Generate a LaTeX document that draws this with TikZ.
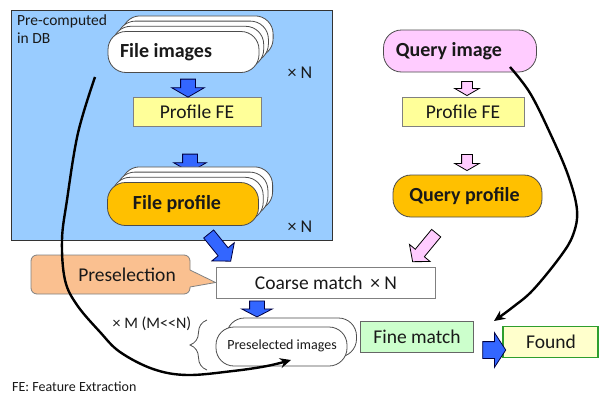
\documentclass[tikz,border=0pt]{standalone}
\usepackage{fontspec}
\setmainfont{Carlito}
\usetikzlibrary{shapes.arrows,decorations.pathreplacing,arrows.meta}
\definecolor{bgblue}{HTML}{99CCFF}
\definecolor{arblue}{HTML}{3366FF}
\definecolor{arpink}{HTML}{FFCCFF}
\definecolor{qpink}{HTML}{FFCCFF}
\definecolor{orng}{HTML}{FFC000}
\definecolor{lyel}{HTML}{FFFF99}
\definecolor{fyel}{HTML}{FFFFCC}
\definecolor{lgrn}{HTML}{CCFFCC}
\definecolor{fgrn}{HTML}{2E9E2E}
\definecolor{peach}{HTML}{FAC090}
\tikzset{
  pill/.style={draw=black!70, line width=0.8pt, rounded corners=18pt, minimum width=151pt, minimum height=41pt, inner sep=0pt},
  rectbox/.style={draw=black!50, line width=0.8pt, inner sep=0pt},
  barrow/.style={single arrow, draw=black!75!blue, fill=arblue, line width=0.8pt, inner xsep=0pt, single arrow head indent=0pt},
  parrow/.style={single arrow, draw=black, fill=arpink, line width=0.8pt, inner xsep=0pt, single arrow head indent=0pt},
  curve/.style={line width=2.4pt, black, -{Stealth[length=11pt,width=10pt]}},
  bigbold/.style={font=\fontsize{20}{24}\selectfont\bfseries, text=black!90},
  big/.style={font=\fontsize{19.5}{23}\selectfont, text=black!90},
  mid/.style={font=\fontsize{18}{21}\selectfont, text=black!90},
  small/.style={font=\fontsize{16}{19}\selectfont, text=black!90},
  tiny/.style={font=\fontsize{14}{17}\selectfont, text=black!90},
}
\begin{document}
\begin{tikzpicture}[x=1pt,y=1pt]
\useasboundingbox (0,0) rectangle (600,-394);
\fill[white] (0,0) rectangle (600,-394);

% DB background
\node[draw=black!80, fill=bgblue, line width=0.8pt, minimum width=321pt, minimum height=230pt, inner sep=0pt] (db) at (171.5,-125) {};

% File images stack
\foreach \i in {3,2,1}
  \node[pill, fill=white] (fimg\i) at ({183.5+\i*4.7},{-52+\i*5.2}) {};
\node[pill, fill=white] (fimg) at (183.5,-52) {};
\node[bigbold] (fimgt) at (166,-52) {File images};
\node[mid] (xn1) at (300,-73) {× N};
\node[font=\fontsize{15.5}{18.5}\selectfont, text=black!90, anchor=north west, align=left, inner sep=0pt] (pre) at (17,-15) {Pre-computed\\[-1pt]in DB};

% Profile FE left
\node[rectbox, fill=lyel, minimum width=128pt, minimum height=29pt] (profL) at (197,-111.5) {};
\node[big] (profLt) at (197,-111.5) {Profile FE};

\node[barrow, rotate=-90, minimum height=18pt, inner ysep=7pt, single arrow head extend=9pt, single arrow tip angle=120] (a1) at (188,-86) {};
\node[barrow, rotate=-90, minimum height=18pt, inner ysep=7pt, single arrow head extend=9pt, single arrow tip angle=120] (a2) at (190,-161) {};

% File profile stack
\foreach \i in {3,2,1}
  \node[pill, fill=white, minimum height=43pt] (fprof\i) at ({183+\i*4.7},{-204+\i*5.2}) {};
\node[pill, fill=orng, minimum height=43pt] (fprof) at (183,-204) {};
\node[bigbold] (fproft) at (177,-204) {File profile};
\node[mid] (xn2) at (300,-227) {× N};

% Query side
\node[pill, fill=qpink, minimum width=153pt, minimum height=42pt] (qimg) at (460,-51) {};
\node[bigbold] (qimgt) at (449,-51) {Query image};
\node[rectbox, fill=lyel, minimum width=122pt, minimum height=29pt] (profR) at (463,-112) {};
\node[big] (profRt) at (463,-112) {Profile FE};
\node[pill, fill=orng, minimum width=149pt, minimum height=42pt] (qprof) at (467.5,-196) {};
\node[bigbold] (qproft) at (464.5,-196) {Query profile};

\node[parrow, rotate=-90, minimum height=14pt, inner ysep=5pt, single arrow head extend=7pt, single arrow tip angle=120] (p1) at (467,-87) {};
\node[parrow, rotate=-90, minimum height=16pt, inner ysep=5pt, single arrow head extend=7pt, single arrow tip angle=120] (p2) at (467,-161) {};

% Coarse match
\node[rectbox, fill=white, minimum width=219pt, minimum height=31pt] (coarse) at (325.5,-282.5) {};
\node[big] (coarset) at (326,-283) {Coarse match \,× N};

% diagonal arrows
\node[barrow, rotate=-51, minimum height=35pt, inner ysep=6pt, single arrow head extend=8pt, single arrow tip angle=100] (a3) at (218,-245.5) {};
\node[parrow, rotate=-129.6, minimum height=37pt, inner ysep=5.5pt, single arrow head extend=7.5pt, single arrow tip angle=100] (p3) at (426,-245.5) {};

% Preselection callout
\node[draw=black!50, fill=peach, line width=0.8pt, rounded corners=6pt, minimum width=159pt, minimum height=39pt, inner sep=0pt] (presel) at (110.5,-274.5) {};
\fill[peach] (189.2,-270) -- (coarse.west) -- (189.2,-287) -- cycle;
\draw[black!50, line width=0.8pt, line join=miter] (190,-270) -- (coarse.west) -- (190,-287);
\node[big] (preselt) at (127,-275) {Preselection};

% lower blue arrow
\node[barrow, rotate=-90, minimum height=16pt, inner ysep=7pt, single arrow head extend=8pt, single arrow tip angle=125] (a4) at (257,-307) {};

% Preselected images
\node[pill, fill=white, minimum width=130pt, minimum height=39pt] (psel2) at (291.5,-337.5) {};
\node[pill, fill=white, minimum width=131pt, minimum height=39pt] (psel) at (281.5,-346.5) {};
\node[tiny] (pselt) at (282,-346) {Preselected images};

\draw[decorate, decoration={brace, amplitude=17pt}, black!70, line width=0.8pt] (207,-370) -- (207,-320);
\node[small] (xm) at (152,-324) {× M (M{<}{<}N)};

% Fine match, Found
\node[rectbox, draw=black!60, fill=lgrn, minimum width=113pt, minimum height=31pt] (fine) at (416.5,-336.5) {};
\node[big] (finet) at (417,-336.5) {Fine match};
\node[draw=fgrn, fill=fyel, line width=1.6pt, minimum width=95pt, minimum height=31pt, inner sep=0pt] (found) at (550.5,-342) {};
\node[big] (foundt) at (551,-342) {Found};
\node[barrow, minimum height=23pt, inner ysep=8pt, single arrow head extend=9pt, single arrow tip angle=114] (a5) at (491.5,-350) {};

% curves
\coordinate (c1s) at (95,-77);
\coordinate (c1e) at (291,-360);
\draw[curve] plot[smooth, tension=0.6] coordinates {(c1s) (78,-133) (67,-200) (62,-240) (65,-280) (77,-305) (100,-332) (120,-352) (153,-369) (187,-375) (233,-371) (267,-366) (c1e)};
\coordinate (c2s) at (510,-67);
\coordinate (c2e) at (494,-321);
\draw[curve] plot[smooth, tension=0.6] coordinates {(c2s) (530,-93) (550,-133) (568,-175) (577,-210) (573,-235) (560,-257) (533,-290) (513,-307) (c2e)};

\node[tiny, anchor=west, inner sep=0pt] (fe) at (12,-387) {FE: Feature Extraction};
\end{tikzpicture}
\end{document}
